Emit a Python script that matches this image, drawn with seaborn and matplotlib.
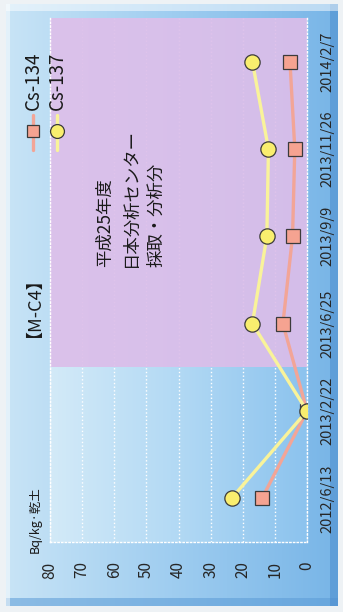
import numpy as np
import pandas as pd
import matplotlib
matplotlib.use("Agg")
import matplotlib.pyplot as plt
from matplotlib.colors import LinearSegmentedColormap
from matplotlib.lines import Line2D
from matplotlib.patches import Rectangle
import seaborn as sns

# Sampling dates and measured activity (Bq/kg, dry soil)
dates = ["2012/6/13", "2013/2/22", "2013/6/25", "2013/9/9", "2013/11/26", "2014/2/7"]
cs134 = [14.0, 0.0, 7.5, 4.5, 3.8, 5.3]
cs137 = [23.5, 0.0, 17.0, 12.5, 12.0, 17.0]
value_ticks = [0, 10, 20, 30, 40, 50, 60, 70, 80]
series_names = ["Cs-134", "Cs-137"]
unit_label = "Bq/kg·乾土"
site_title = "【M-C4】"
note_lines = ["平成25年度", "日本分析センター", "採取・分析分"]

sns.set_theme(style="white")
plt.rcParams["font.family"] = ["Noto Sans CJK JP", "DejaVu Sans"]
plt.rcParams["text.color"] = "#1a1a1a"

W, H = 343, 612
fig = plt.figure(figsize=(W / 100, H / 100), dpi=100)
fig.patch.set_facecolor("#eef2f5")


def fx(px):
    return px / W


def fy(py):
    return 1 - py / H


# framed panel background with a soft blue gradient and bevelled rim
bg = fig.add_axes([fx(6), fy(606), fx(338) - fx(6), fy(4) - fy(606)], zorder=0)
grad = np.linspace(0, 1, 256)[None, :]
frame_cmap = LinearSegmentedColormap.from_list("frame", ["#c8e4f6", "#9fcdf0", "#78b5e7"])
bg.imshow(grad, aspect="auto", cmap=frame_cmap, extent=(0, 1, 0, 1))
bg.add_patch(Rectangle((0, 0), 1, 0.014, color="#5b9bd6", alpha=0.55, lw=0))
bg.add_patch(Rectangle((0.975, 0), 0.025, 1, color="#4b8ccd", alpha=0.55, lw=0))
bg.add_patch(Rectangle((0, 0.988), 1, 0.012, color="white", alpha=0.5, lw=0))
bg.add_patch(Rectangle((0, 0), 0.012, 1, color="white", alpha=0.5, lw=0))
bg.set_xlim(0, 1)
bg.set_ylim(0, 1)
bg.set_axis_off()

# plotting area
ax = fig.add_axes([fx(50), fy(542), fx(307) - fx(50), fy(18) - fy(542)], zorder=1)
ax.set_facecolor("none")
plot_cmap = LinearSegmentedColormap.from_list("plot", ["#d3eaf8", "#b2d9f4", "#8cc3ee"])
ax.imshow(grad, aspect="auto", cmap=plot_cmap, extent=(80, 0, -0.5, 5.5), zorder=0)
ax.axhspan(1.5, 5.5, color="#dcbde9", alpha=0.9, lw=0, zorder=0.6)

df = pd.DataFrame({"date": dates, "pos": np.arange(len(dates)),
                   series_names[0]: cs134, series_names[1]: cs137})

styles = {
    "Cs-134": dict(line="#f2a597", face="#f5a391", marker="s", size=10),
    "Cs-137": dict(line="#f9f39a", face="#f9ee6e", marker="o", size=11),
}
for z, name in enumerate(series_names):
    st = styles[name]
    sns.lineplot(data=df, x=name, y="pos", orient="y", ax=ax, color=st["line"],
                 lw=2.4, marker=st["marker"], markersize=st["size"],
                 markerfacecolor=st["face"], markeredgecolor="#3b3b3b",
                 markeredgewidth=0.9, legend=False, zorder=3 + z)

ax.set_xlim(80, 0)
ax.set_ylim(-0.5, 5.5)
ax.set_xlabel("")
ax.set_ylabel("")
ax.set_xticks(value_ticks)
ax.set_xticklabels([str(v) for v in value_ticks], rotation=90, fontsize=11)
ax.tick_params(axis="x", length=0, pad=14)
ax.set_yticks(df["pos"])
ax.set_yticklabels(dates, rotation=90, va="center", fontsize=10.5)
ax.yaxis.tick_right()
ax.tick_params(axis="y", length=0, pad=10)
ax.set_axisbelow(True)
ax.grid(axis="x", color="white", linestyle=":", linewidth=1.0)
ax.grid(axis="y", visible=False)
for side, s in ax.spines.items():
    s.set_color("white")
    s.set_linestyle(":")
    s.set_linewidth(1.0)
ax.spines["top"].set_visible(False)

# title, unit and note
fig.text(fx(25), fy(298), site_title, rotation=90, ha="center", va="center",
         fontsize=13, zorder=5)
fig.text(fx(35), fy(553), unit_label, rotation=90, ha="center", va="bottom",
         fontsize=9, zorder=5)
for xp, line in zip([105, 131, 156], note_lines):
    fig.text(fx(xp), fy(267), line, rotation=90, ha="center", va="bottom",
             fontsize=12.5, zorder=5)

# legend drawn as vertical entries
for xp, name in zip([33, 57], series_names):
    st = styles[name]
    fig.add_artist(Line2D([fx(xp), fx(xp)], [fy(115), fy(150)], color=st["line"],
                          lw=2.4, zorder=5))
    fig.add_artist(Line2D([fx(xp)], [fy(131)], marker=st["marker"],
                          markersize=st["size"] - 1, markerfacecolor=st["face"],
                          markeredgecolor="#3b3b3b", markeredgewidth=0.9, zorder=6))
    fig.text(fx(xp), fy(110), name, rotation=90, ha="center", va="bottom",
             fontsize=13.5, zorder=6)

fig.savefig("out.png", dpi=100)
